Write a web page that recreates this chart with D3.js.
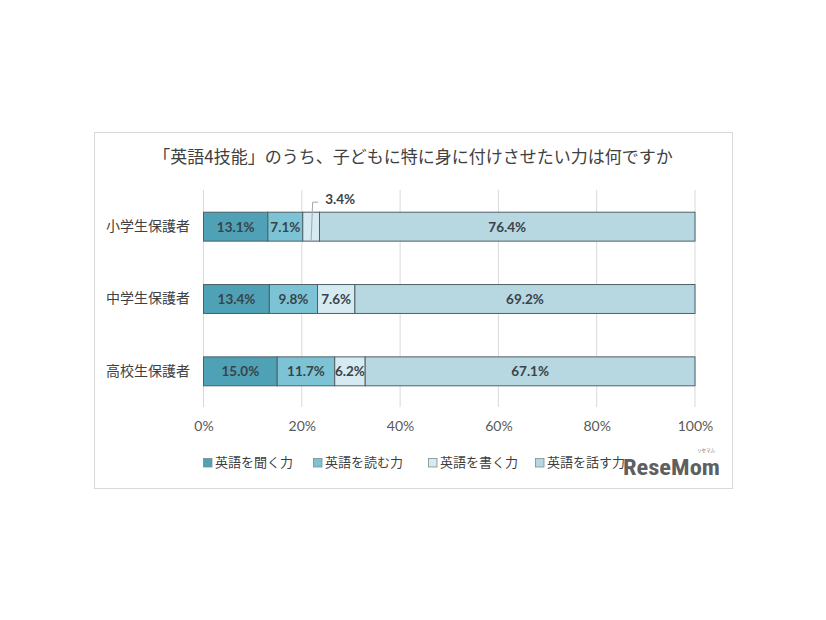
<!DOCTYPE html>
<html><head><meta charset="utf-8">
<script src="https://cdn.jsdelivr.net/npm/d3@7"></script>
<style>body{margin:0;background:#fff;}</style>
</head><body>
<svg id="c" width="826" height="620"></svg>
<script>
const title = "「英語4技能」のうち、子どもに特に身に付けさせたい力は何ですか";
const categories = ["小学生保護者", "中学生保護者", "高校生保護者"];
const seriesNames = ["英語を聞く力", "英語を読む力", "英語を書く力", "英語を話す力"];
const listening = [13.1, 13.4, 15.0];
const reading = [7.1, 9.8, 11.7];
const writing = [3.4, 7.6, 6.2];
const speaking = [76.4, 69.2, 67.1];
const xTicks = [0, 20, 40, 60, 80, 100];
const colors = ["#4fa1b5", "#7cc3d5", "#d6eaf1", "#b7d7e1"];

const series = [listening, reading, writing, speaking];
const svg = d3.select("#c");
const jp = "'Noto Sans CJK JP', sans-serif";
const num = "Lato, 'Open Sans', sans-serif";

svg.append("rect").attr("x", 94.5).attr("y", 132.5).attr("width", 638).attr("height", 356)
  .attr("fill", "#fff").attr("stroke", "#d9d9d9").attr("stroke-width", 1);

svg.append("text").attr("x", 413).attr("y", 163).attr("text-anchor", "middle")
  .attr("font-family", jp).attr("font-size", 17).attr("fill", "#404040").text(title);

const x = d3.scaleLinear().domain([0, 100]).range([203.5, 695]);
const y = d3.scaleBand().domain(categories).range([190.5, 407.5]).paddingInner(0.6).paddingOuter(0.3);

// gridlines
svg.append("g").selectAll("line").data(xTicks).join("line")
  .attr("x1", d => x(d)).attr("x2", d => x(d)).attr("y1", 190).attr("y2", 407)
  .attr("stroke", "#d9d9d9").attr("stroke-width", 1);

// axis labels
const xAxis = svg.append("g").attr("transform", "translate(0,407)")
  .call(d3.axisBottom(x).tickValues(xTicks).tickFormat(d => d + "%").tickSize(0).tickPadding(14));
xAxis.select(".domain").remove();
xAxis.selectAll("text").attr("font-family", num).attr("font-size", 14).attr("fill", "#595959");

const yAxis = svg.append("g").attr("transform", "translate(190,0)")
  .call(d3.axisLeft(y).tickSize(0).tickPadding(0));
yAxis.select(".domain").remove();
yAxis.selectAll("text").attr("font-family", jp).attr("font-size", 14).attr("fill", "#404040");

// stacked bars
const rows = categories.map((c, i) => {
  let acc = 0;
  return series.map((s, k) => { const v = s[i]; const seg = {cat: c, k, v, x0: acc, x1: acc + v}; acc += v; return seg; });
});
const segs = rows.flat();
svg.append("g").selectAll("rect").data(segs).join("rect")
  .attr("x", d => x(d.x0)).attr("width", d => x(d.x1) - x(d.x0))
  .attr("y", d => y(d.cat)).attr("height", y.bandwidth())
  .attr("fill", d => colors[d.k]).attr("stroke", "#4f5f66").attr("stroke-width", 1);

// labels
const inside = segs.filter(d => !(d.cat === categories[0] && d.k === 2));
svg.append("g").selectAll("text").data(inside).join("text")
  .attr("x", d => x((d.x0 + d.x1) / 2)).attr("y", d => y(d.cat) + y.bandwidth() / 2)
  .attr("dy", "0.36em").attr("text-anchor", "middle")
  .attr("font-family", num).attr("font-weight", "bold").attr("font-size", 13.5).attr("fill", "#39434a")
  .text(d => d.v.toFixed(1) + "%");

// outside label with leader
const o = segs.find(d => d.cat === categories[0] && d.k === 2);
const ox = x((o.x0 + o.x1) / 2);
svg.append("path").attr("d", `M${ox},${y(o.cat) + y.bandwidth()} L${ox + 1.5},${y(o.cat) - 10} L${ox + 7},${y(o.cat) - 10}`)
  .attr("fill", "none").attr("stroke", "#a6a6a6").attr("stroke-width", 1);
svg.append("text").attr("x", ox + 14).attr("y", y(o.cat) - 13).attr("dy", "0.36em")
  .attr("font-family", num).attr("font-weight", "bold").attr("font-size", 13.5).attr("fill", "#39434a")
  .text(o.v.toFixed(1) + "%");

// legend
const legX = [203, 313, 428, 535];
const leg = svg.append("g").selectAll("g").data(seriesNames).join("g")
  .attr("transform", (d, i) => `translate(${legX[i]},458)`);
leg.append("rect").attr("width", 8.5).attr("height", 8.5).attr("x", 0.5).attr("y", 0.5)
  .attr("fill", (d, i) => colors[i]).attr("stroke", "#7f8c90").attr("stroke-width", 0.8);
leg.append("text").attr("x", 12).attr("y", 4.5).attr("dy", "0.36em")
  .attr("font-family", jp).attr("font-size", 13).attr("fill", "#404040").text(d => d);

// watermark
svg.append("text").attr("x", 623).attr("y", 475).attr("font-family", "'Roboto Condensed', 'Liberation Sans Narrow', 'DejaVu Sans Condensed', sans-serif")
  .attr("font-weight", "bold").attr("font-size", 22).attr("fill", "#5f5f5f").attr("textLength", 97)
  .attr("lengthAdjust", "spacingAndGlyphs").text("ReseMom");
svg.append("text").attr("x", 706).attr("y", 452).attr("text-anchor", "middle")
  .attr("font-family", jp).attr("font-size", 4.5).attr("fill", "#6f6f6f").text("リセマム");
</script>
</body></html>
